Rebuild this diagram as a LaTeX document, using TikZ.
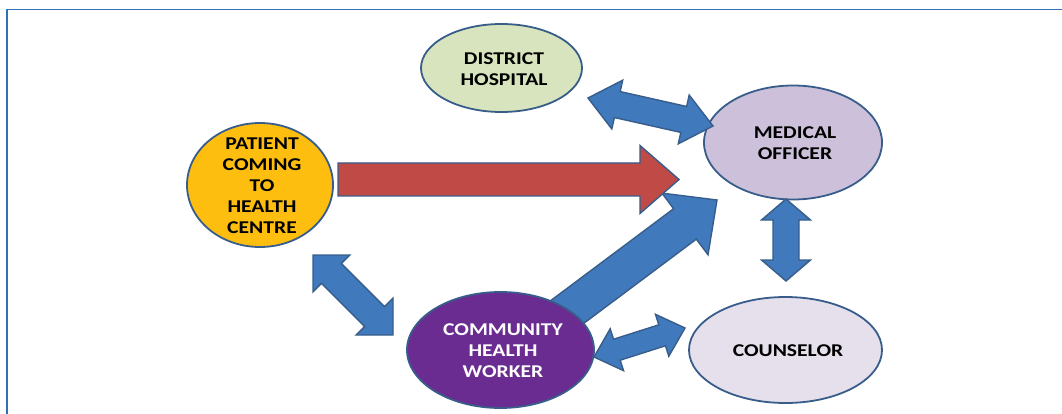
\documentclass[tikz,border=0pt]{standalone}
\usepackage{fontspec}
\setmainfont{Carlito}[FakeStretch=1.2]
\usetikzlibrary{shapes.geometric,calc}

\definecolor{frameblue}{RGB}{46,112,186}
\definecolor{edgeblue}{RGB}{56,93,138}
\definecolor{arrowblue}{RGB}{65,121,189}
\definecolor{arrowred}{RGB}{192,74,70}
\definecolor{hospgreen}{RGB}{215,228,189}
\definecolor{patientyellow}{RGB}{253,190,16}
\definecolor{officerlilac}{RGB}{204,192,218}
\definecolor{counsellilac}{RGB}{230,224,236}
\definecolor{chwpurple}{RGB}{107,44,145}

\tikzset{
  party/.style={ellipse, draw=edgeblue, line width=1.8pt, inner sep=0pt},
  partytext/.style={align=center, inner sep=0pt, font=\fontsize{18}{21}\selectfont\bfseries},
  blockarrow/.style={draw=edgeblue, line width=1.4pt, line join=miter, fill=arrowblue},
}

% #2 from, #3 to, #4 half shaft, #5 half head, #6 head length
\newcommand{\oneway}[6][blockarrow]{%
  \coordinate (hb) at ($(#3)!#6!(#2)$);
  \draw[#1] ($(#2)!#4!90:(#3)$) -- ($(hb)!#4!90:(#3)$) -- ($(hb)!#5!90:(#3)$) -- (#3)
    -- ($(hb)!#5!-90:(#3)$) -- ($(hb)!#4!-90:(#3)$) -- ($(#2)!#4!-90:(#3)$) -- cycle;
}
\newcommand{\twoway}[6][blockarrow]{%
  \coordinate (ha) at ($(#2)!#6!(#3)$);
  \coordinate (hb) at ($(#3)!#6!(#2)$);
  \draw[#1] (#2) -- ($(ha)!#5!90:(#3)$) -- ($(ha)!#4!90:(#3)$) -- ($(hb)!#4!90:(#3)$)
    -- ($(hb)!#5!90:(#3)$) -- (#3) -- ($(hb)!#5!-90:(#3)$) -- ($(hb)!#4!-90:(#3)$)
    -- ($(ha)!#4!-90:(#3)$) -- ($(ha)!#5!-90:(#3)$) -- cycle;
}

\begin{document}
\begin{tikzpicture}[x=1pt,y=-1pt]
  \useasboundingbox (0,0) rectangle (1062,414);
  \draw[frameblue, line width=1.8pt] (7,414) -- (7,9.5) -- (1062,9.5);

  \coordinate (chw-up) at (541,331.6);
  \coordinate (officer-in) at (717,200);
  \oneway{chw-up}{officer-in}{19pt}{38.5pt}{40pt}

  \node[party, fill=hospgreen, minimum width=161pt, minimum height=88pt] (hospital) at (501.5,68) {};
  \node[partytext] (hospital-text) at (504,69) {DISTRICT\\HOSPITAL};
  \node[party, fill=patientyellow, minimum width=146pt, minimum height=124pt] (patient) at (260,185) {};
  \node[partytext] (patient-text) at (262,186) {PATIENT\\COMING\\TO\\HEALTH\\CENTRE};
  \node[party, fill=officerlilac, minimum width=178pt, minimum height=114pt] (officer) at (793,142.5) {};
  \node[partytext] (officer-text) at (795,143) {MEDICAL\\OFFICER};
  \node[party, fill=counsellilac, minimum width=193pt, minimum height=106pt] (counselor) at (785.5,350) {};
  \node[partytext] (counselor-text) at (788,351) {COUNSELOR};
  \node[party, fill=chwpurple, minimum width=187pt, minimum height=116pt] (chw) at (500.5,350) {};
  \node[partytext, text=white] (chw-text) at (503,351) {COMMUNITY\\HEALTH\\WORKER};

  \coordinate (patient-out) at (338,179.5);
  \coordinate (officer-left) at (679,179.5);
  \oneway[blockarrow, fill=arrowred]{patient-out}{officer-left}{16.5pt}{34pt}{39pt}

  \coordinate (hospital-out) at (588,98);
  \coordinate (officer-top) at (713,126);
  \twoway{hospital-out}{officer-top}{13.3pt}{25pt}{30pt}

  \coordinate (officer-down) at (786,199);
  \coordinate (counselor-up) at (786,281);
  \twoway{officer-down}{counselor-up}{13pt}{24.5pt}{21pt}

  \coordinate (patient-down) at (313,255);
  \coordinate (chw-left) at (393,335);
  \twoway{patient-down}{chw-left}{14pt}{26pt}{26pt}

  \coordinate (chw-right) at (594,357);
  \coordinate (counselor-left) at (685,328);
  \twoway{chw-right}{counselor-left}{11pt}{22pt}{24pt}
\end{tikzpicture}
\end{document}
